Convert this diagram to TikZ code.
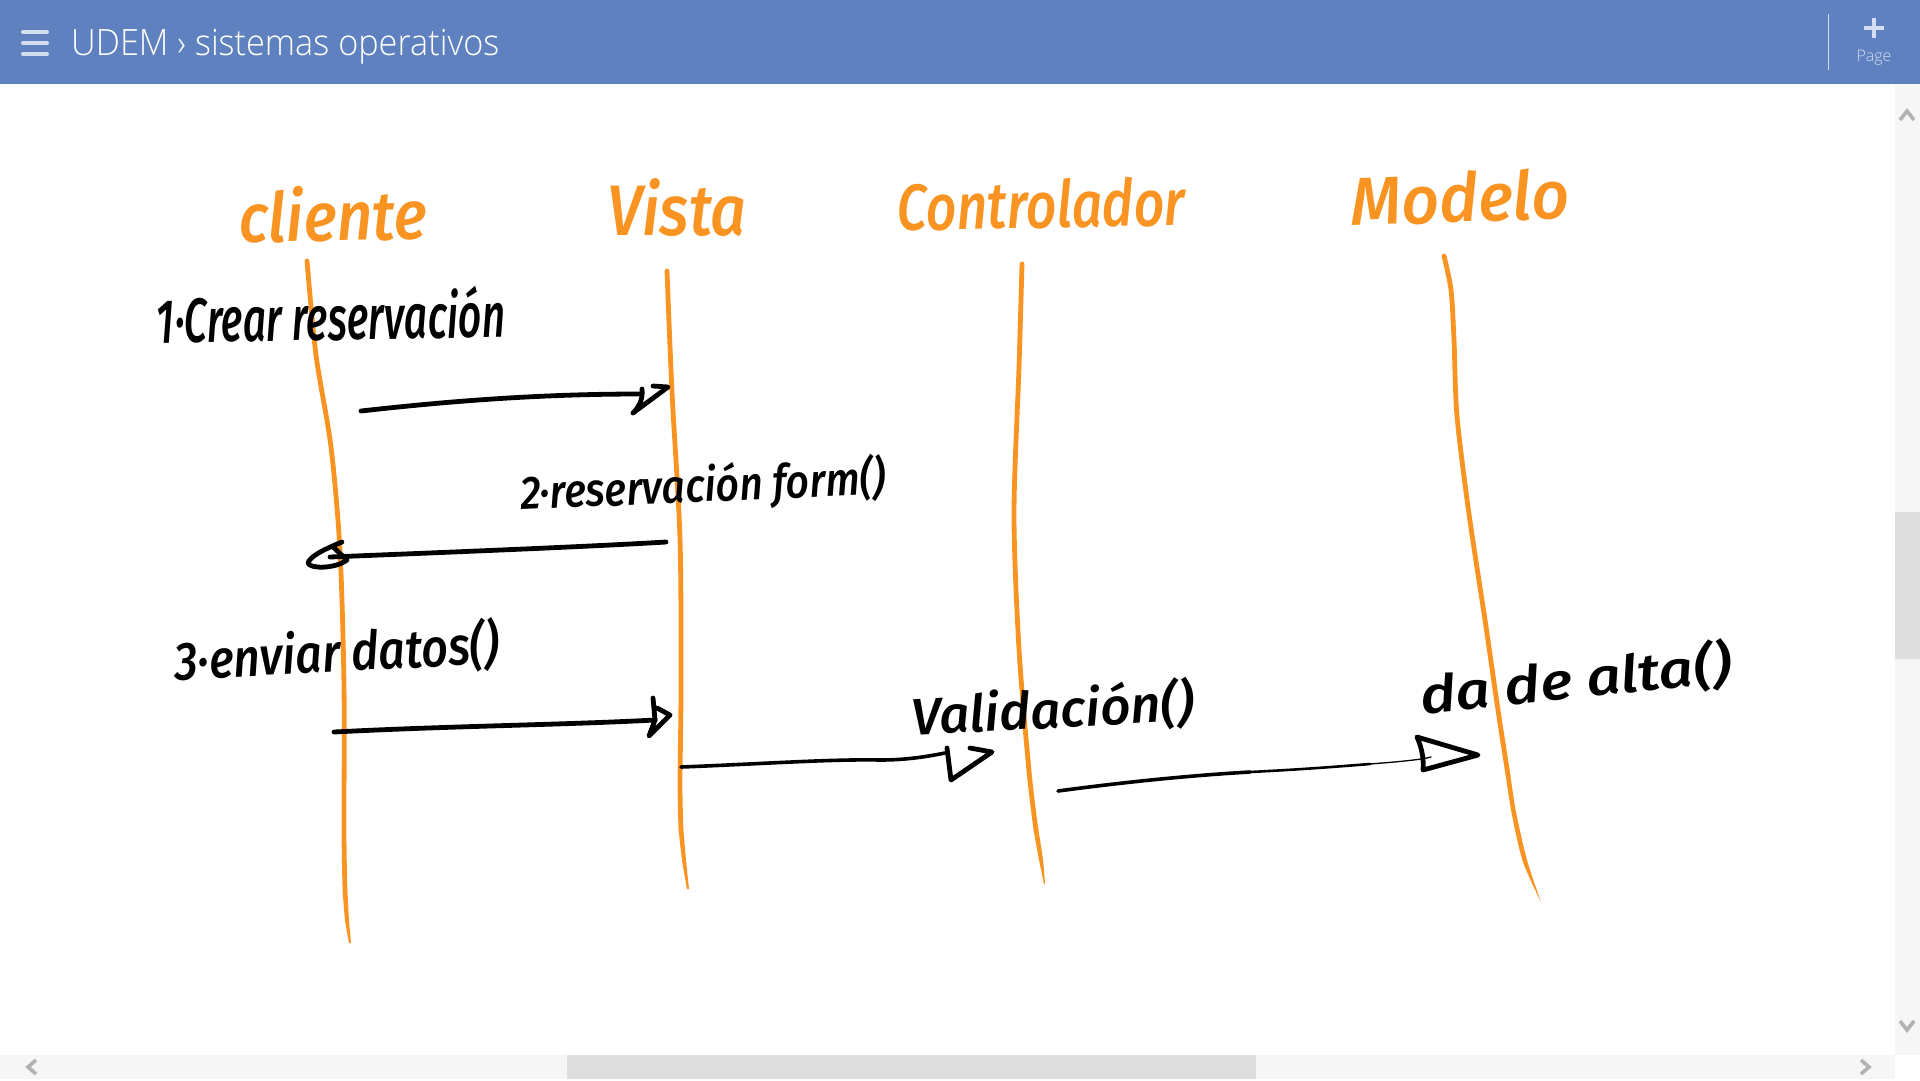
\documentclass[tikz,border=0pt]{standalone}
\usepackage{fontspec}
\usepackage{graphicx}
\setmainfont{Open Sans}
\newfontfamily\uifont{Open Sans Light}
\newfontfamily\handfont[ItalicFont={Fira Sans Medium Italic}]{Fira Sans}
\definecolor{barblue}{HTML}{5F81C0}
\definecolor{barlight}{HTML}{D5DEF0}
\definecolor{inkorange}{HTML}{F99422}
\definecolor{tracky}{HTML}{F6F6F6}
\definecolor{thumbgrey}{HTML}{DEDEDE}
\definecolor{chevgrey}{HTML}{B2B2B2}
\newcommand{\handfit}[3]{\resizebox*{#1}{#2}{\handfont\itshape #3}}
\tikzset{
  x=1pt,y=-1pt,
  lifeline/.style={draw=inkorange,line width=4.8pt,line cap=round,line join=round},
  taperfill/.style={fill=inkorange,draw=none},
  inkline/.style={draw=black,line width=4.8pt,line cap=round,line join=round},
  inkthin/.style={draw=black,line width=2.6pt,line cap=round,line join=round},
  inkhair/.style={draw=black,line width=1.3pt,line cap=round,line join=round},
  headlabel/.style={inner sep=0pt,text=inkorange},
  msglabel/.style={inner sep=0pt,text=black},
  chevron/.style={draw=chevgrey,line width=3.6pt,line cap=butt,line join=miter},
  uitext/.style={inner sep=0pt,text=white}
}
\begin{document}
\begin{tikzpicture}
\useasboundingbox (0,0) rectangle (1920,1080);
\fill[white] (0,0) rectangle (1920,1080);
% app bar
\fill[barblue] (0,0) rectangle (1920,84);
\foreach \yy in {32,43,54} \draw[barlight,line width=4pt,line cap=round] (23,\yy) -- (47,\yy);
\node[uitext,anchor=west] (title) at (71,47) {\uifont\resizebox*{428pt}{35pt}{UDEM › sistemas operativos}};
\draw[barlight,line width=1pt] (1828.5,14) -- (1828.5,70);
\draw[barlight,line width=4.4pt] (1864,28) -- (1884,28) (1874,18) -- (1874,38);
\node[uitext,text=barlight,font=\uifont\fontsize{16}{19}\selectfont] (pagelabel) at (1874,58) {Page};
% scrollbars
\fill[tracky] (1895,84) rectangle (1920,1055);
\fill[thumbgrey] (1895,512) rectangle (1920,659);
\fill[tracky] (0,1055) rectangle (1895,1079);
\fill[thumbgrey] (567,1055) rectangle (1256,1079);
\draw[chevron] (1900,120) -- (1907,111) -- (1914,120);
\draw[chevron] (1900,1021) -- (1907,1030) -- (1914,1021);
\draw[chevron] (1861,1060) -- (1869,1067) -- (1861,1074);
\draw[chevron] (36,1060) -- (28,1067) -- (36,1074);
% lifelines
\draw[lifeline] plot[smooth] coordinates {(307,261) (316,355) (331,447) (340,551) (344,686) (344,833) (345,890)};
\fill[taperfill] plot[smooth] coordinates {(342.6,890) (345,920) (349,943)} -- plot[smooth] coordinates {(351,943) (349,920) (347.4,890)} -- cycle;
\draw[lifeline] plot[smooth] coordinates {(667,271) (672,392) (680,539) (681,686) (680,784) (681,830)};
\fill[taperfill] plot[smooth] coordinates {(678.6,830) (682,860) (687,889)} -- plot[smooth] coordinates {(689,889) (686,860) (683.4,830)} -- cycle;
\draw[lifeline] plot[smooth] coordinates {(1022,264) (1019,367) (1014,514) (1019,649) (1029,771) (1036,830)};
\fill[taperfill] plot[smooth] coordinates {(1033.6,830) (1039,860) (1044,884)} -- plot[smooth] coordinates {(1045,884) (1043,860) (1038.4,830)} -- cycle;
\draw[lifeline] plot[smooth] coordinates {(1444,256) (1451,290) (1454,340) (1457,416) (1469,514) (1485,620) (1498,710) (1508,775)};
\fill[taperfill] plot[smooth] coordinates {(1505.6,775) (1512,815) (1523,862) (1541,902)} -- plot[smooth] coordinates {(1541,902) (1527,860) (1516,812) (1510.4,775)} -- cycle;
% header labels
\node[headlabel,rotate=1] (cliente) at (333,214) {\handfit{188pt}{56pt}{cliente}};
\node[headlabel] (vista) at (677,208) {\handfit{139pt}{58pt}{Vista}};
\node[headlabel,rotate=1] (controlador) at (1041,204) {\handfit{288pt}{50pt}{Controlador}};
\node[headlabel,rotate=2] (modelo) at (1460,197) {\handfit{218pt}{52pt}{Modelo}};
% message labels
\node[msglabel,rotate=1] (m1) at (331,315) {\handfit{349pt}{52pt}{1·Crear reservación}};
\node[msglabel,rotate=2.5] (m2) at (703,487) {\handfit{365pt}{50pt}{2·reservación form()}};
\node[msglabel,rotate=3] (m3) at (337,653) {\handfit{325pt}{54pt}{3·enviar datos()}};
\node[msglabel,rotate=3] (m4) at (1053,710) {\handfit{283pt}{52pt}{Validación()}};
\node[msglabel,rotate=6] (m5) at (1576,680) {\handfit{312pt}{52pt}{da de alta()}};
% message arrows
\coordinate (a1s) at (361,411); \coordinate (a1e) at (640,394);
\draw[inkline] (a1s) .. controls (450,401) and (540,394) .. (a1e);
\draw[inkline] (642,389) .. controls (643,398) and (640,406) .. (633,413) -- (668,387) -- (653,386);
\coordinate (a2s) at (666,542); \coordinate (a2e) at (330,557);
\draw[inkline] (a2s) .. controls (600,546) and (480,551) .. (a2e);
\draw[inkline] (342,542) .. controls (325,549) and (310,556) .. (308,563) .. controls (310,569) and (335,569) .. (347,560) -- (332,546);
\coordinate (a3s) at (334,732); \coordinate (a3e) at (655,720);
\draw[inkline] (a3s) .. controls (450,726) and (560,725) .. (a3e);
\draw[inkline] (653,698) -- (655,720) -- (649,736) -- (670,715) -- (657,708);
\coordinate (a4s) at (681,767); \coordinate (a4e) at (945,753);
\draw[inkline,line width=3.6pt] (a4s) .. controls (760,764) and (830,759) .. (880,760) .. controls (905,760) and (925,757) .. (a4e);
\draw[inkline] (947,748) -- (951,780) -- (992,752) -- (970,748);
\coordinate (a5s) at (1058,791); \coordinate (a5m) at (1250,772); \coordinate (a5e) at (1431,757);
\draw[inkline,line width=3.6pt] (a5s) .. controls (1110,784) and (1180,776) .. (a5m);
\draw[inkthin] (a5m) .. controls (1290,770) and (1320,768) .. (1370,764);
\draw[inkhair] (1370,764) .. controls (1395,762) and (1420,760) .. (a5e);
\draw[inkline] (1417,737) -- (1478,755) -- (1423,770) .. controls (1424,760) and (1422,748) .. cycle;
\end{tikzpicture}
\end{document}
